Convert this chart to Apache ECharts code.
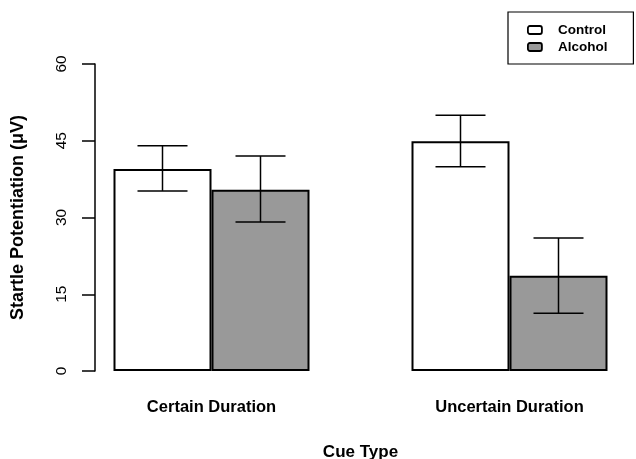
<!DOCTYPE html>
<html>
<head>
<meta charset="utf-8">
<script src="https://cdn.jsdelivr.net/npm/echarts@6/dist/echarts.min.js"></script>
<style>html,body{margin:0;padding:0;background:#fff;}#c{width:636px;height:459px;}</style>
</head>
<body>
<div id="c"></div>
<script>
var categories = ['Certain Duration', 'Uncertain Duration'];
var controlMean = [39.5, 44.9];
var controlLow = [35.2, 39.9];
var controlHigh = [44.0, 50.0];
var alcoholMean = [35.4, 18.6];
var alcoholLow = [29.1, 11.3];
var alcoholHigh = [42.0, 26.0];
var yTicks = [0, 15, 30, 45, 60];

var chart = echarts.init(document.getElementById('c'), null, {renderer: 'canvas'});
var FONT = 'Liberation Sans, Arial, sans-serif';
var BARW = 98;

function errSeries(name, low, high, shift) {
  return {
    type: 'custom',
    name: name + ' err',
    z: 10,
    silent: true,
    data: categories.map(function (c, i) { return [i, low[i], high[i]]; }),
    renderItem: function (params, api) {
      var p1 = api.coord([api.value(0), api.value(1)]);
      var p2 = api.coord([api.value(0), api.value(2)]);
      var x = p1[0] + shift;
      var hw = 25;
      var st = {stroke: '#000', lineWidth: 1.5};
      return {
        type: 'group',
        children: [
          {type: 'line', shape: {x1: x, y1: p1[1], x2: x, y2: p2[1]}, style: st},
          {type: 'line', shape: {x1: x - hw, y1: p1[1], x2: x + hw, y2: p1[1]}, style: st},
          {type: 'line', shape: {x1: x - hw, y1: p2[1], x2: x + hw, y2: p2[1]}, style: st}
        ]
      };
    }
  };
}

chart.setOption({
  animation: false,
  backgroundColor: '#fff',
  grid: {left: 62.5, right: -22.5, top: 64, bottom: 88, outerBoundsMode: 'none', containLabel: false},
  legend: {
    data: [
      {name: 'Control', itemStyle: {color: '#fff', borderColor: '#000', borderWidth: 1.8}},
      {name: 'Alcohol', itemStyle: {color: '#999999', borderColor: '#000', borderWidth: 1.8}}
    ],
    orient: 'vertical',
    left: 508,
    top: 12,
    icon: 'roundRect',
    itemWidth: 14,
    itemHeight: 8,
    itemGap: 3,
    padding: [11, 26, 10, 19],
    borderColor: '#000',
    borderWidth: 1.2,
    textStyle: {fontFamily: FONT, fontWeight: 'bold', fontSize: 13.5, color: '#000', padding: [0, 0, 0, 11]}
  },
  xAxis: {
    type: 'category',
    data: categories,
    axisLine: {show: false},
    axisTick: {show: false},
    axisLabel: {fontFamily: FONT, fontWeight: 'bold', fontSize: 16.5, color: '#000', margin: 28},
    name: 'Cue Type',
    nameLocation: 'middle',
    nameGap: 73,
    nameTextStyle: {fontFamily: FONT, fontWeight: 'bold', fontSize: 17, color: '#000'}
  },
  yAxis: {
    type: 'value',
    min: 0, max: 60, interval: 15,
    offset: -32.5,
    splitLine: {show: false},
    axisLine: {show: true, lineStyle: {color: '#000', width: 1.5}},
    axisTick: {show: true, length: 13, lineStyle: {color: '#000', width: 1.5}},
    axisLabel: {
      fontFamily: FONT, fontSize: 15.5, color: '#000', rotate: 90, margin: 25,
      formatter: function (v) { return yTicks.indexOf(v) >= 0 ? String(v) : ''; }
    },
    name: 'Startle Potentiation (\u03bcV)',
    nameLocation: 'middle',
    nameGap: 68,
    nameRotate: 90,
    nameTextStyle: {fontFamily: FONT, fontWeight: 'bold', fontSize: 18, color: '#000'}
  },
  series: [
    {
      type: 'bar', name: 'Control', data: controlMean, barWidth: BARW, barGap: '0%',
      itemStyle: {color: '#fff', borderColor: '#000', borderWidth: 2}
    },
    {
      type: 'bar', name: 'Alcohol', data: alcoholMean, barWidth: BARW, barGap: '0%',
      itemStyle: {color: '#999999', borderColor: '#000', borderWidth: 2}
    },
    errSeries('Control', controlLow, controlHigh, -BARW / 2),
    errSeries('Alcohol', alcoholLow, alcoholHigh, BARW / 2)
  ]
});
</script>
</body>
</html>
